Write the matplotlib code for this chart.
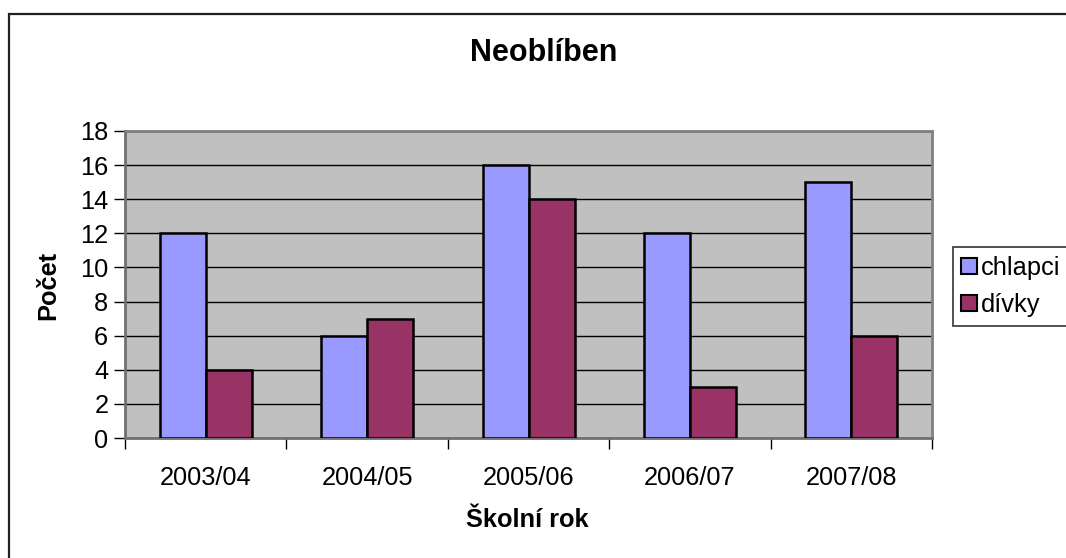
import matplotlib
matplotlib.use("Agg")
import matplotlib.pyplot as plt
from matplotlib.patches import Rectangle
from matplotlib.lines import Line2D
import numpy as np

plt.rcParams['font.family'] = ['Liberation Sans', 'DejaVu Sans']

categories = ["2003/04", "2004/05", "2005/06", "2006/07", "2007/08"]
chlapci = [12, 6, 16, 12, 15]
divky = [4, 7, 14, 3, 6]
series_names = ["chlapci", "dívky"]
title = "Neoblíben"
xlabel = "Školní rok"
ylabel = "Počet"

W, H = 1066, 558
fig = plt.figure(figsize=(W / 100, H / 100), dpi=100)
fig.patch.set_facecolor("white")

# outer chart border (right/bottom clipped by image)
fig.patches.append(Rectangle((9 / W, -0.1), 1.2, 1 - 14 / H + 0.1, transform=fig.transFigure,
                             fill=False, edgecolor="#222222", linewidth=1.6, zorder=0))

ax = fig.add_axes([125 / W, 1 - 438 / H, (932 - 125) / W, (438 - 131) / H])
ax.set_facecolor("#C0C0C0")

x = np.arange(len(categories))
bw = 46 / 161.4
ax.bar(x - bw / 2, chlapci, bw, color="#9999FF", edgecolor="black", linewidth=1.8, zorder=3)
ax.bar(x + bw / 2, divky, bw, color="#993366", edgecolor="black", linewidth=1.8, zorder=3)

ax.set_xlim(-0.5, len(categories) - 0.5)
ax.set_ylim(0, 18)
ax.set_yticks(np.arange(0, 19, 2))
ax.yaxis.grid(True, color="black", linewidth=1.0, zorder=1)
ax.set_axisbelow(True)

ax.set_xticks(np.arange(-0.5, len(categories), 1.0))
ax.set_xticklabels([])
ax.set_xticks(x, minor=True)
ax.set_xticklabels(categories, minor=True)
ax.tick_params(axis="x", which="major", direction="out", length=8, width=1, color="black")
ax.tick_params(axis="x", which="minor", length=0, labelsize=18.3, pad=20)
ax.tick_params(axis="y", direction="out", length=8, width=1, color="black", labelsize=18.3, pad=4)

for s in ["top", "right"]:
    ax.spines[s].set_color("#808080")
    ax.spines[s].set_linewidth(2)
for s in ["left", "bottom"]:
    ax.spines[s].set_color("#707070")
    ax.spines[s].set_linewidth(2)

fig.text(544 / W, 1 - 53 / H, title, ha="center", va="center", fontsize=22, fontweight="bold")
fig.text(527 / W, 1 - 520 / H, xlabel, ha="center", va="center", fontsize=18.3, fontweight="bold")
fig.text(48 / W, 1 - 285 / H, ylabel, ha="center", va="center", rotation=90, fontsize=18.3, fontweight="bold")

handles = [Line2D([], [], linestyle="none", marker="s", markersize=12, markerfacecolor="#9999FF",
                  markeredgecolor="black", markeredgewidth=1.5),
           Line2D([], [], linestyle="none", marker="s", markersize=12, markerfacecolor="#993366",
                  markeredgecolor="black", markeredgewidth=1.5)]
leg = fig.legend(handles, series_names, loc="upper left", bbox_to_anchor=(953 / W, 1 - 247 / H),
                 borderaxespad=0, frameon=True, fancybox=False, fontsize=18.3,
                 handlelength=0.55, handletextpad=0.2, borderpad=0.35, labelspacing=0.5)
leg.get_frame().set_edgecolor("black")
leg.get_frame().set_linewidth(1.2)

fig.savefig("out.png", dpi=100)
